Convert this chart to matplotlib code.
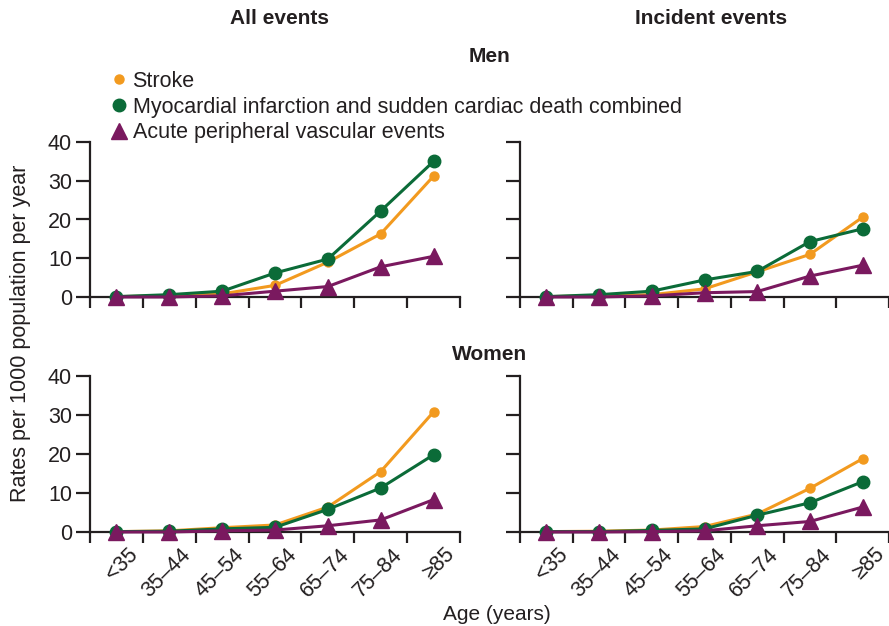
import matplotlib.pyplot as plt
from matplotlib.lines import Line2D
from matplotlib.transforms import ScaledTranslation

plt.rcParams["font.family"] = ["Liberation Sans", "DejaVu Sans"]

# Data
age_groups = ["<35", "35\u201344", "45\u201354", "55\u201364", "65\u201374", "75\u201384", "\u226585"]

men_all_stroke = [0.1, 0.3, 0.8, 3.0, 9.0, 16.3, 31.2]
men_all_mi = [0.1, 0.6, 1.5, 6.2, 9.8, 22.2, 35.0]
men_all_pvd = [0.0, 0.0, 0.3, 1.5, 2.7, 7.8, 10.5]

men_inc_stroke = [0.1, 0.3, 0.6, 2.1, 6.5, 11.0, 20.6]
men_inc_mi = [0.1, 0.6, 1.5, 4.4, 6.6, 14.3, 17.6]
men_inc_pvd = [0.0, 0.0, 0.3, 1.1, 1.4, 5.4, 8.2]

women_all_stroke = [0.1, 0.3, 1.1, 1.8, 6.4, 15.5, 30.8]
women_all_mi = [0.1, 0.2, 0.8, 1.2, 5.8, 11.3, 19.8]
women_all_pvd = [0.0, 0.0, 0.3, 0.5, 1.6, 3.1, 8.3]

women_inc_stroke = [0.1, 0.2, 0.5, 1.4, 4.6, 11.2, 18.8]
women_inc_mi = [0.1, 0.1, 0.4, 0.8, 4.3, 7.5, 12.9]
women_inc_pvd = [0.0, 0.0, 0.1, 0.3, 1.6, 2.7, 6.4]

series_names = [
    "Stroke",
    "Myocardial infarction and sudden cardiac death combined",
    "Acute peripheral vascular events",
]
colors = ["#f29a1f", "#0b6b38", "#7a195f"]
markers = ["o", "o", "^"]
msizes = [6.5, 9, 11]

panels = [
    (men_all_stroke, men_all_mi, men_all_pvd),
    (men_inc_stroke, men_inc_mi, men_inc_pvd),
    (women_all_stroke, women_all_mi, women_all_pvd),
    (women_inc_stroke, women_inc_mi, women_inc_pvd),
]

W, H = 889, 626
fig = plt.figure(figsize=(W / 100, H / 100), dpi=100)


def px_axes(x0, x1, y_top, y_bot):
    return fig.add_axes([x0 / W, 1 - y_bot / H, (x1 - x0) / W, (y_bot - y_top) / H])


ax_pos = [
    (90, 460, 142, 297),
    (520, 889, 142, 297),
    (90, 460, 376, 532),
    (520, 889, 376, 532),
]

ink = "#231f20"
x = list(range(len(age_groups)))

for i, (pos, data) in enumerate(zip(ax_pos, panels)):
    ax = px_axes(*pos)
    for vals, c, m, ms, z in zip(data, colors, markers, msizes, [3, 4, 5]):
        ax.plot(x, vals, color=c, marker=m, markersize=ms, linewidth=2.2,
                clip_on=False, zorder=z)
    ax.set_xlim(-0.5, 6.5)
    ax.set_ylim(0, 40)
    for s in ["top", "right"]:
        ax.spines[s].set_visible(False)
    for s in ["left", "bottom"]:
        ax.spines[s].set_linewidth(1.6)
        ax.spines[s].set_color(ink)
    ax.spines["left"].set_bounds(0, 40)
    ax.set_yticks([0, 10, 20, 30, 40])
    ax.set_xticks(x)
    ax.set_xticks([v - 0.5 for v in range(len(age_groups) + 1)], minor=True)
    ax.tick_params(axis="x", which="major", length=0)
    ax.tick_params(axis="x", which="minor", length=8, width=1.6, color=ink)
    ax.tick_params(axis="y", length=10, width=1.6, color=ink, labelsize=15.5,
                   labelcolor=ink, pad=3)
    if i % 2 == 1:
        ax.set_yticklabels([])
    if i < 2:
        ax.set_xticklabels([])
    else:
        ax.set_xticklabels(age_groups, rotation=45, ha="right",
                           rotation_mode="anchor", fontsize=15.5, color=ink)
        offset = ScaledTranslation(11 / 100, -7 / 100, fig.dpi_scale_trans)
        for lab in ax.get_xticklabels():
            lab.set_transform(lab.get_transform() + offset)

# Titles
fig.text(279 / W, 1 - 19 / H, "All events", ha="center", va="center",
         fontsize=15, fontweight="bold", color=ink)
fig.text(711 / W, 1 - 19 / H, "Incident events", ha="center", va="center",
         fontsize=15, fontweight="bold", color=ink)
fig.text(490 / W, 1 - 57 / H, "Men", ha="center", va="center",
         fontsize=15, fontweight="bold", color=ink)
fig.text(490 / W, 1 - 355 / H, "Women", ha="center", va="center",
         fontsize=15, fontweight="bold", color=ink)
fig.text(497 / W, 1 - 614 / H, "Age (years)", ha="center", va="center",
         fontsize=15, color=ink)
fig.text(21 / W, 1 - 333 / H, "Rates per 1000 population per year",
         ha="center", va="center", rotation=90, fontsize=15.5, color=ink)

# Legend
handles = [Line2D([], [], color=c, marker=m, markersize=ms, linestyle="none")
           for c, m, ms in zip(colors, markers, msizes)]
fig.legend(handles, series_names, loc="upper left",
           bbox_to_anchor=(111 / W, 1 - 71 / H), frameon=False,
           fontsize=15.5, handlelength=0.7, handletextpad=0.3,
           labelspacing=0.22, borderaxespad=0, borderpad=0, labelcolor=ink)

fig.savefig("out.png", dpi=100)
